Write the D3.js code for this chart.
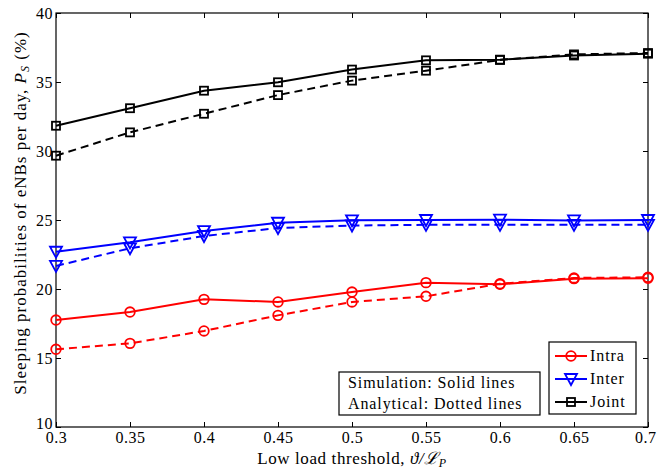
<!DOCTYPE html>
<head>
  <meta charset="utf-8">
  <script src="https://cdnjs.cloudflare.com/ajax/libs/d3/7.8.5/d3.min.js"></script>
  <style>
    body { margin:0; background:#fff; }
    text { font-family: "Liberation Serif", "DejaVu Serif", serif; }
  </style>
</head>
<body>
  <div id="vis"></div>
  <script>
    // threshold values on the x axis
    var thresholds = [0.3, 0.35, 0.4, 0.45, 0.5, 0.55, 0.6, 0.65, 0.7];

    // simulation (solid)
    var intraSim = [17.75, 18.33, 19.25, 19.06, 19.78, 20.46, 20.34, 20.75, 20.78];
    var interSim = [22.7, 23.38, 24.2, 24.8, 24.98, 25.0, 25.02, 24.97, 25.0];
    var jointSim = [31.83, 33.1, 34.37, 34.98, 35.9, 36.57, 36.62, 36.92, 37.05];

    // analytical (dashed)
    var intraAna = [15.63, 16.06, 16.96, 18.09, 19.06, 19.47, 20.38, 20.8, 20.85];
    var interAna = [21.67, 22.95, 23.84, 24.42, 24.6, 24.65, 24.65, 24.65, 24.65];
    var jointAna = [29.66, 31.35, 32.7, 34.05, 35.1, 35.82, 36.6, 37.0, 37.1];

    var xTicks = [0.3, 0.35, 0.4, 0.45, 0.5, 0.55, 0.6, 0.65, 0.7];
    var yTicks = [10, 15, 20, 25, 30, 35, 40];

    var width = 657, height = 474;
    var margin = {left: 56, top: 13, right: 9, bottom: 47};

    var svg = d3.select("#vis").append("svg")
      .attr("width", width)
      .attr("height", height);

    var x = d3.scaleLinear().domain([0.3, 0.7]).range([margin.left, width - margin.right]);
    var y = d3.scaleLinear().domain([10, 40]).range([height - margin.bottom, margin.top]);

    // axes, matlab style ticks pointing in
    var xAxis = svg.append("g")
      .attr("transform", "translate(0," + y(10) + ")")
      .call(d3.axisBottom(x).tickValues(xTicks).tickSizeInner(-5).tickSizeOuter(0).tickPadding(5).tickFormat(d3.format("")));
    svg.append("g")
      .attr("transform", "translate(0," + y(40) + ")")
      .call(d3.axisTop(x).tickValues(xTicks).tickSizeInner(-5).tickSizeOuter(0).tickFormat(""));
    var yAxis = svg.append("g")
      .attr("transform", "translate(" + x(0.3) + ",0)")
      .call(d3.axisLeft(y).tickValues(yTicks).tickSizeInner(-5).tickSizeOuter(0).tickPadding(3));
    svg.append("g")
      .attr("transform", "translate(" + x(0.7) + ",0)")
      .call(d3.axisRight(y).tickValues(yTicks).tickSizeInner(-5).tickSizeOuter(0).tickFormat(""));

    svg.selectAll(".domain").remove();
    svg.selectAll(".tick line").attr("stroke", "#000");
    svg.selectAll(".tick text").attr("font-size", 16).attr("fill", "#000")
      .style("font-family", "Liberation Serif").style("letter-spacing", "0.5px");
    // the bottom y label sits on the x labels in the original too, lift it a bit
    yAxis.selectAll(".tick text").filter(function(d) { return d == 10; }).attr("dy", "0.1em");
    // keep the last x label inside the window
    xAxis.selectAll(".tick text").filter(function(d) { return d == 0.7; })
      .attr("text-anchor", "end").attr("x", 8);

    svg.append("rect")
      .attr("x", x(0.3)).attr("y", y(40))
      .attr("width", x(0.7) - x(0.3)).attr("height", y(10) - y(40))
      .attr("fill", "none").attr("stroke", "#000").attr("stroke-width", 1.2);

    var line = d3.line()
      .x(function(d, i) { return x(thresholds[i]); })
      .y(function(d) { return y(d); });

    function marker(g, kind, cx, cy, color) {
      if (kind == "circle") {
        g.append("circle").attr("cx", cx).attr("cy", cy).attr("r", 4.8)
          .attr("fill", "none").attr("stroke", color).attr("stroke-width", 1.8);
      } else if (kind == "tri") {
        g.append("path")
          .attr("d", "M" + (cx - 6) + "," + (cy - 5) + "L" + (cx + 6) + "," + (cy - 5) + "L" + cx + "," + (cy + 6) + "Z")
          .attr("fill", "none").attr("stroke", color).attr("stroke-width", 1.8);
      } else {
        g.append("rect").attr("x", cx - 4).attr("y", cy - 4).attr("width", 8).attr("height", 8)
          .attr("fill", "none").attr("stroke", color).attr("stroke-width", 1.8);
      }
    }

    var series = [
      {data: intraAna, color: "#ff0000", kind: "circle", dash: "8,5"},
      {data: interAna, color: "#0000ff", kind: "tri", dash: "8,5"},
      {data: jointAna, color: "#000000", kind: "square", dash: "8,5"},
      {data: intraSim, color: "#ff0000", kind: "circle", dash: null},
      {data: interSim, color: "#0000ff", kind: "tri", dash: null},
      {data: jointSim, color: "#000000", kind: "square", dash: null}
    ];

    series.forEach(function(s) {
      var g = svg.append("g");
      g.append("path")
        .attr("d", line(s.data))
        .attr("fill", "none")
        .attr("stroke", s.color)
        .attr("stroke-width", 2)
        .attr("stroke-dasharray", s.dash);
      s.data.forEach(function(v, i) {
        marker(g, s.kind, x(thresholds[i]), y(v), s.color);
      });
    });

    // legend
    var leg = svg.append("g");
    leg.append("rect").attr("x", 549).attr("y", 342).attr("width", 87).attr("height", 72)
      .attr("fill", "#fff").attr("stroke", "#000").attr("stroke-width", 1.2);
    var names = ["Intra", "Inter", "Joint"];
    var colors = ["#ff0000", "#0000ff", "#000000"];
    var kinds = ["circle", "tri", "square"];
    names.forEach(function(n, i) {
      var ly = 356 + i * 23;
      leg.append("line").attr("x1", 555).attr("x2", 587).attr("y1", ly).attr("y2", ly)
        .attr("stroke", colors[i]).attr("stroke-width", 2);
      marker(leg, kinds[i], 571, ly, colors[i]);
      leg.append("text").attr("x", 590).attr("y", ly + 5).attr("font-size", 16)
        .style("letter-spacing", "0.9px").text(n);
    });

    // note box
    var note = svg.append("g");
    note.append("rect").attr("x", 339).attr("y", 372).attr("width", 201).attr("height", 43)
      .attr("fill", "#fff").attr("stroke", "#000").attr("stroke-width", 1.2);
    note.append("text").attr("x", 348).attr("y", 388).attr("font-size", 16)
      .style("letter-spacing", "0.9px").text("Simulation: Solid lines");
    note.append("text").attr("x", 348).attr("y", 409).attr("font-size", 16)
      .style("letter-spacing", "0.9px").text("Analytical: Dotted lines");

    // axis labels
    var xl = svg.append("text").attr("x", 352).attr("y", 464).attr("text-anchor", "middle")
      .attr("font-size", 17).style("letter-spacing", "0.6px");
    xl.append("tspan").text("Low load threshold, ");
    xl.append("tspan").attr("font-style", "italic").text("ϑ/ℒ");
    xl.append("tspan").attr("font-style", "italic").attr("font-size", 12).attr("dy", 3).text("P");

    var yl = svg.append("text")
      .attr("transform", "translate(26,213) rotate(-90)")
      .attr("text-anchor", "middle").attr("font-size", 17).style("letter-spacing", "1px");
    yl.append("tspan").text("Sleeping probabilities of eNBs per day, ");
    yl.append("tspan").attr("font-style", "italic").text("P");
    yl.append("tspan").attr("font-style", "italic").attr("font-size", 12).attr("dy", 3).text("S");
    yl.append("tspan").attr("dy", -3).text(" (%)");
  </script>
</body>
